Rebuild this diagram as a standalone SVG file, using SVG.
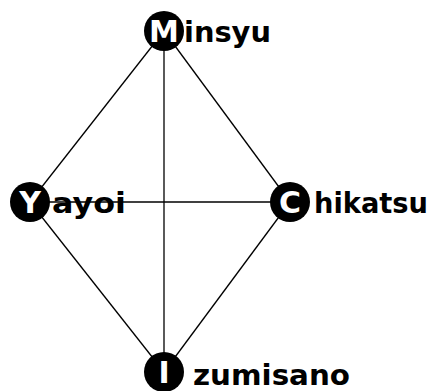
<svg xmlns="http://www.w3.org/2000/svg" width="434" height="391" viewBox="0 0 434 391">
<style>
.edge{stroke:#000;stroke-width:1.3;fill:none}
.dot{fill:#000}
.ini{fill:#fff;font-family:"DejaVu Sans",sans-serif;font-weight:bold;font-size:30px;text-anchor:middle}
.lbl{fill:#000;font-family:"DejaVu Sans",sans-serif;font-weight:bold;font-size:29px}
</style>
<rect width="434" height="391" fill="#fff"/>
<g id="connectors">
<line class="edge" x1="164" y1="31" x2="30" y2="202"/>
<line class="edge" x1="164" y1="31" x2="290" y2="202"/>
<line class="edge" x1="164" y1="31" x2="164" y2="372"/>
<line class="edge" x1="30" y1="202" x2="290" y2="202"/>
<line class="edge" x1="30" y1="202" x2="164" y2="372"/>
<line class="edge" x1="290" y1="202" x2="164" y2="372"/>
</g>
<g id="minsyu">
<circle class="dot" cx="164" cy="31" r="20"/>
<text class="ini" x="164" y="42">M</text>
<text class="lbl" x="184" y="42" textLength="87" lengthAdjust="spacingAndGlyphs">insyu</text>
</g>
<g id="yayoi">
<circle class="dot" cx="30" cy="202" r="20"/>
<text class="ini" x="30" y="213">Y</text>
<text class="lbl" x="52" y="213" textLength="74" lengthAdjust="spacingAndGlyphs">ayoi</text>
</g>
<g id="chikatsu">
<circle class="dot" cx="290" cy="202" r="20"/>
<text class="ini" x="290" y="213">C</text>
<text class="lbl" x="314" y="213" textLength="114" lengthAdjust="spacingAndGlyphs">hikatsu</text>
</g>
<g id="izumisano">
<circle class="dot" cx="164" cy="372" r="20"/>
<text class="ini" x="164" y="383">I</text>
<text class="lbl" x="193" y="385" textLength="157" lengthAdjust="spacingAndGlyphs">zumisano</text>
</g>
</svg>
